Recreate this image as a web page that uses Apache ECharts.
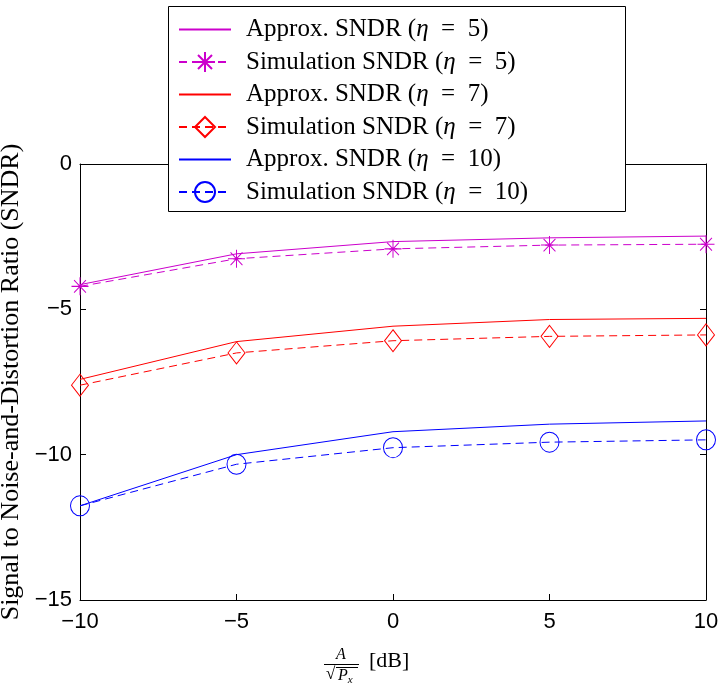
<!DOCTYPE html>
<html>
<head>
<meta charset="utf-8">
<script src="https://cdn.jsdelivr.net/npm/echarts@6/dist/echarts.min.js"></script>
<style>html,body{margin:0;padding:0;background:#fff}#c{width:721px;height:684px}</style>
</head>
<body>
<div id="c"></div>
<script>
const xValues = [-10, -5, 0, 5, 10];
const approx5 = [-4.15, -3.09, -2.67, -2.54, -2.48];
const sim5 = [-4.21, -3.26, -2.92, -2.79, -2.76];
const approx7 = [-7.41, -6.11, -5.58, -5.35, -5.31];
const sim7 = [-7.61, -6.50, -6.08, -5.93, -5.88];
const approx10 = [-11.76, -10.00, -9.21, -8.95, -8.84];
const sim10 = [-11.76, -10.33, -9.76, -9.57, -9.49];
const seriesNames = [
  'Approx. SNDR (η = 5)', 'Simulation SNDR (η = 5)',
  'Approx. SNDR (η = 7)', 'Simulation SNDR (η = 7)',
  'Approx. SNDR (η = 10)', 'Simulation SNDR (η = 10)'
];
const yTicks = [-15, -10, -5, 0];
const xTicks = [-10, -5, 0, 5, 10];

const MAG = '#cc00cc', RED = '#ff0000', BLUE = '#0000ff';
const SERIF = '"Liberation Serif", "DejaVu Serif", serif';
const SANS = '"Liberation Sans", Arial, sans-serif';
const ASTER = 'path://M10,0L10,20M0,10L20,10M3,3L17,17M3,17L17,3';

function pts(arr) { return xValues.map((x, i) => [x, arr[i]]); }
function approx(name, arr, color) {
  return { name, type: 'line', data: pts(arr), symbol: 'none', showSymbol: false,
    lineStyle: { color, width: 1, type: 'solid' }, itemStyle: { color }, z: 2, animation: false };
}
function sim(name, arr, color, symbol, size) {
  return { name, type: 'line', data: pts(arr), symbol, symbolSize: size, showSymbol: true,
    lineStyle: { color, width: 1, type: [8, 5] },
    itemStyle: { color: 'transparent', borderColor: color, borderWidth: 1 }, z: 2, animation: false };
}
const minus = v => String(v).replace('-', '−');

const chart = echarts.init(document.getElementById('c'), null, { renderer: 'canvas' });
chart.setOption({
  animation: false,
  backgroundColor: '#fff',
  grid: { left: 80, right: 15, top: 164, bottom: 84, show: false, containLabel: false, outerBoundsMode: 'none' },
  xAxis: [{
    type: 'value', min: -10, max: 10, interval: 5, position: 'bottom',
    axisLine: { show: true, onZero: false, lineStyle: { color: '#000', width: 1 } },
    axisTick: { show: true, inside: true, length: 6, lineStyle: { color: '#000' } },
    axisLabel: { fontFamily: SANS, fontSize: 22, color: '#000', margin: 11, formatter: minus,
      customValues: xTicks },
    splitLine: { show: false }
  }, {
    type: 'value', min: -10, max: 10, interval: 5, position: 'top',
    axisLine: { show: true, onZero: false, lineStyle: { color: '#000', width: 1 } },
    axisTick: { show: true, inside: true, length: 6, lineStyle: { color: '#000' } },
    axisLabel: { show: false }, splitLine: { show: false }
  }],
  yAxis: [{
    type: 'value', min: -15, max: 0, interval: 5, position: 'left',
    name: 'Signal to Noise-and-Distortion Ratio (SNDR)', nameLocation: 'middle', nameGap: 48,
    nameTextStyle: { fontFamily: SERIF, fontSize: 26, color: '#000' },
    axisLine: { show: true, onZero: false, lineStyle: { color: '#000', width: 1 } },
    axisTick: { show: true, inside: true, length: 6, lineStyle: { color: '#000' } },
    axisLabel: { fontFamily: SANS, fontSize: 22, color: '#000', margin: 8, formatter: minus,
      customValues: yTicks },
    splitLine: { show: false }
  }, {
    type: 'value', min: -15, max: 0, interval: 5, position: 'right',
    axisLine: { show: true, onZero: false, lineStyle: { color: '#000', width: 1 } },
    axisTick: { show: true, inside: true, length: 6, lineStyle: { color: '#000' } },
    axisLabel: { show: false }, splitLine: { show: false }
  }],
  legend: {
    orient: 'vertical', left: 178, top: 17, padding: 0,
    itemWidth: 52, itemHeight: 25, itemGap: 7.5,
    data: seriesNames.map((n, i) => (i % 2 === 0
      ? { name: n, itemStyle: { color: 'transparent', borderColor: 'transparent', borderWidth: 0 } }
      : { name: n })),
    formatter: n => n.replace('η', '{i|η}').replace(' = ', '\u2002=\u2002'),
    textStyle: { fontFamily: SERIF, fontSize: 25, color: '#000', lineHeight: 25, padding: [0, 0, 0, 10],
      rich: { i: { fontFamily: SERIF, fontStyle: 'italic', fontSize: 25, color: '#000', lineHeight: 25 } } },
    z: 10
  },
  graphic: [
    { type: 'rect', z: 5, shape: { x: 168.5, y: 6.5, width: 457, height: 205 },
      style: { fill: '#fff', stroke: '#000', lineWidth: 1 } },
    { type: 'text', z: 5, left: 336, top: 647,
      style: { text: 'A', fontFamily: SERIF, fontStyle: 'italic', fontSize: 16, fill: '#000' } },
    { type: 'line', z: 5, shape: { x1: 324, y1: 664.5, x2: 359, y2: 664.5 }, style: { stroke: '#000', lineWidth: 1 } },
    { type: 'text', z: 5, left: 326, top: 666,
      style: { text: '√', fontFamily: SERIF, fontSize: 17, fill: '#000' } },
    { type: 'line', z: 5, shape: { x1: 336, y1: 667.5, x2: 358, y2: 667.5 }, style: { stroke: '#000', lineWidth: 1 } },
    { type: 'text', z: 5, left: 338, top: 668,
      style: { text: '{p|P}{s|x}', fontFamily: SERIF, fill: '#000',
        rich: { p: { fontFamily: SERIF, fontStyle: 'italic', fontSize: 16 },
                s: { fontFamily: SERIF, fontStyle: 'italic', fontSize: 11, padding: [8, 0, 0, 0] } } } },
    { type: 'text', z: 5, left: 369, top: 650,
      style: { text: '[dB]', fontFamily: SERIF, fontSize: 22, fill: '#000' } }
  ],
  series: [
    approx(seriesNames[0], approx5, MAG),
    sim(seriesNames[1], sim5, MAG, ASTER, [17, 18]),
    approx(seriesNames[2], approx7, RED),
    sim(seriesNames[3], sim7, RED, 'diamond', [17, 22]),
    approx(seriesNames[4], approx10, BLUE),
    sim(seriesNames[5], sim10, BLUE, 'circle', [19, 20])
  ]
});
</script>
</body>
</html>
